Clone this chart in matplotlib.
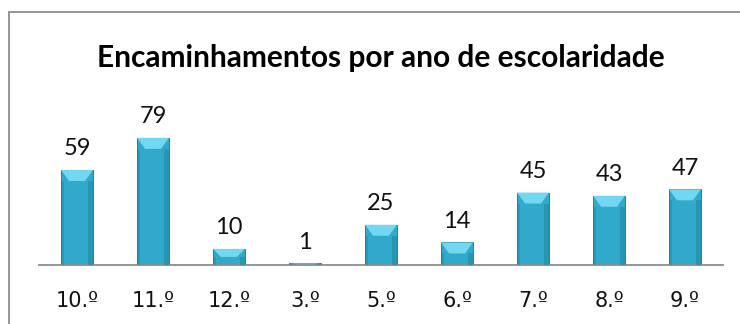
import matplotlib
matplotlib.use("Agg")
import matplotlib.pyplot as plt
from matplotlib.patches import Rectangle, Polygon
import numpy as np

categories = ["10.º", "11.º", "12.º", "3.º", "5.º", "6.º", "7.º", "8.º", "9.º"]
values = [59, 79, 10, 1, 25, 14, 45, 43, 47]
title = "Encaminhamentos por ano de escolaridade"

plt.rcParams['font.family'] = ['Lato', 'DejaVu Sans']

W, H = 740, 324
fig = plt.figure(figsize=(W / 100, H / 100), dpi=100)
fig.patch.set_facecolor("white")

# outer chart frame
fig.add_artist(Rectangle((9 / W, -0.05), 1.0, 1 - 12 / H + 0.05, transform=fig.transFigure,
                         fill=False, edgecolor="#8c8c8c", linewidth=1.3))

ax_left, ax_right = 39 / W, 723 / W
ax_bottom = (H - 265) / H
ax_top = (H - 120) / H
ax = fig.add_axes([ax_left, ax_bottom, ax_right - ax_left, ax_top - ax_bottom])
ax.set_xlim(-0.5, len(categories) - 0.5)
ymax = 145 / 1.61
ax.set_ylim(0, ymax)

x = np.arange(len(categories))
bw = 0.42
main = "#31a9cb"
ax.bar(x, values, width=bw, color=main, edgecolor="#22839f", linewidth=0.7, zorder=2)

# bevel highlights (derived from data)
px_per_unit = 145 / ymax
for xi, v in zip(x, values):
    cap = min(11 / px_per_unit, v * 0.5)
    inset = bw * 0.25
    ax.add_patch(Polygon([(xi - bw / 2, v), (xi + bw / 2, v),
                          (xi + bw / 2 - inset, v - cap), (xi - bw / 2 + inset, v - cap)],
                         closed=True, facecolor="#72d7f0", edgecolor="none", zorder=3))
    ax.add_patch(Rectangle((xi + bw / 2 - bw * 0.14, 0), bw * 0.14, max(v - cap, 0),
                           facecolor="#1f7d98", edgecolor="none", alpha=0.45, zorder=3))
    ax.add_patch(Rectangle((xi - bw / 2, 0), bw * 0.10, max(v - cap, 0),
                           facecolor="#1f7d98", edgecolor="none", alpha=0.35, zorder=3))
    ax.annotate(str(v), (xi, v), xytext=(0, 10.5), textcoords="offset points",
                ha="center", va="baseline", fontsize=17, color="#111111")

for s in ["top", "right", "left"]:
    ax.spines[s].set_visible(False)
ax.spines["bottom"].set_color("#8c8c8c")
ax.spines["bottom"].set_linewidth(1.3)
ax.set_yticks([])
ax.set_xticks(x)
ax.set_xticklabels(categories, fontsize=15, color="#111111",
                   family=['DejaVu Sans'])
ax.tick_params(axis="x", length=0, pad=19)
ax.patch.set_alpha(0)

fig.text(381 / W, 1 - 58 / H, title, ha="center", va="center", fontsize=21.5,
         fontweight="bold", color="#000000")

fig.savefig("out.png", dpi=100, facecolor="white")
